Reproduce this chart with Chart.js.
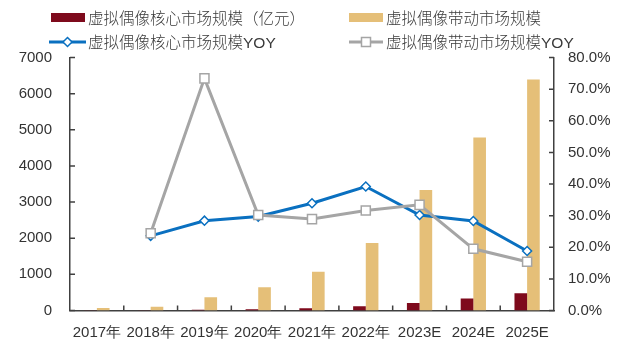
<!DOCTYPE html>
<html>
<head>
<meta charset="utf-8">
<script src="https://cdn.jsdelivr.net/npm/chart.js@4/dist/chart.umd.min.js"></script>
<style>
  html, body { margin: 0; padding: 0; background: #fff; }
  #wrap { position: relative; width: 625px; height: 346px; }
  canvas { position: absolute; left: 0; top: 0; }
  .lg { position: absolute; font-family: "Noto Sans CJK SC", "Liberation Sans", sans-serif; font-size: 15.5px; color: #3a3a3a; line-height: 20px; white-space: nowrap; font-weight: 300; }
  .lg .yoy { font-family: "Liberation Sans", Arial, sans-serif; font-weight: 400; }
  .sw { position: absolute; }
</style>
</head>
<body>
<div id="wrap">
  <canvas id="c" width="625" height="346"></canvas>
</div>
<script>
const categories = ["2017年", "2018年", "2019年", "2020年", "2021年", "2022年", "2023E", "2024E", "2025E"];
const coreMarket = [4, 8, 20, 35, 62, 121, 205, 335, 480];
const drivenMarket = [70, 105, 365, 645, 1075, 1866, 3335, 4785, 6390];
const coreYoy = [null, 23.6, 28.4, 29.7, 33.9, 39.2, 30.2, 28.3, 18.8];
const drivenYoy = [null, 24.4, 73.4, 30.2, 28.9, 31.6, 33.4, 19.5, 15.4];
const leftTicks = [0, 1000, 2000, 3000, 4000, 5000, 6000, 7000];
const rightTicks = [0, 10, 20, 30, 40, 50, 60, 70, 80];
const seriesNames = ["虚拟偶像核心市场规模（亿元）", "虚拟偶像带动市场规模", "虚拟偶像核心市场规模YOY", "虚拟偶像带动市场规模YOY"];

const COL_CORE = "#7E0A1C";
const COL_DRIVEN = "#E5BF78";
const COL_BLUE = "#0A70C0";
const COL_GRAY = "#A5A5A5";
const AXIS = "#404040";
const TICKFONT = { family: "'Liberation Sans', Arial, sans-serif", size: 15 };

// Legend (HTML, real text)
const wrap = document.getElementById('wrap');
function addEl(html, style, cls) {
  const d = document.createElement('div');
  d.className = cls || '';
  d.innerHTML = html;
  Object.assign(d.style, style);
  wrap.appendChild(d);
  return d;
}
function txt(s) { return s.replace(/YOY$/, '<span class="yoy">YOY</span>'); }
addEl('', { left: '51px', top: '13px', width: '34px', height: '9px', background: COL_CORE }, 'sw');
addEl(txt(seriesNames[0]), { left: '88px', top: '7px' }, 'lg');
addEl('', { left: '349px', top: '13px', width: '34px', height: '9px', background: COL_DRIVEN }, 'sw');
addEl(txt(seriesNames[1]), { left: '386px', top: '7px' }, 'lg');
// line swatches
const lg2 = document.createElement('canvas');
lg2.width = 625; lg2.height = 60;
lg2.style.position = 'absolute'; lg2.style.left = '0'; lg2.style.top = '0';
wrap.appendChild(lg2);
(function(){
  const g = lg2.getContext('2d');
  g.lineWidth = 3;
  g.strokeStyle = COL_BLUE; g.beginPath(); g.moveTo(49, 42); g.lineTo(86, 42); g.stroke();
  g.fillStyle = '#fff'; g.lineWidth = 1.5;
  g.beginPath(); g.moveTo(67.5, 37.5); g.lineTo(72, 42); g.lineTo(67.5, 46.5); g.lineTo(63, 42); g.closePath(); g.fill(); g.stroke();
  g.lineWidth = 3; g.strokeStyle = COL_GRAY; g.beginPath(); g.moveTo(349, 42); g.lineTo(383, 42); g.stroke();
  g.lineWidth = 1.5; g.fillStyle = '#fff';
  g.beginPath(); g.rect(361.5, 37.5, 9, 9); g.fill(); g.stroke();
})();
addEl(txt(seriesNames[2]), { left: '88px', top: '31px' }, 'lg');
addEl(txt(seriesNames[3]), { left: '386px', top: '31px' }, 'lg');

const innerTicks = {
  id: 'innerTicks',
  afterDraw(chart) {
    const ctx = chart.ctx;
    const a = chart.chartArea;
    const x = chart.scales.x, yl = chart.scales.y, yr = chart.scales.y2;
    ctx.save();
    ctx.strokeStyle = AXIS;
    ctx.lineWidth = 1.5;
    ctx.beginPath();
    yl.ticks.forEach(t => { const p = yl.getPixelForValue(t.value); ctx.moveTo(a.left, p); ctx.lineTo(a.left + 5, p); });
    yr.ticks.forEach(t => { const p = yr.getPixelForValue(t.value); ctx.moveTo(a.right, p); ctx.lineTo(a.right - 5, p); });
    const n = categories.length;
    for (let i = 1; i < n; i++) {
      const p = (x.getPixelForValue(i - 1) + x.getPixelForValue(i)) / 2;
      ctx.moveTo(p, a.bottom); ctx.lineTo(p, a.bottom - 5);
    }
    ctx.stroke();
    ctx.restore();
  }
};

new Chart(document.getElementById('c'), {
  data: {
    labels: categories,
    datasets: [
      { type: 'bar', label: seriesNames[0], data: coreMarket, backgroundColor: COL_CORE, yAxisID: 'y', order: 2, categoryPercentage: 0.47, barPercentage: 1.0 },
      { type: 'bar', label: seriesNames[1], data: drivenMarket, backgroundColor: COL_DRIVEN, yAxisID: 'y', order: 2, categoryPercentage: 0.47, barPercentage: 1.0 },
      { type: 'line', label: seriesNames[2], data: coreYoy, yAxisID: 'y2', order: 1, borderColor: COL_BLUE, borderWidth: 3, tension: 0,
        pointStyle: 'rectRot', pointRadius: 4.5, pointBackgroundColor: '#fff', pointBorderColor: COL_BLUE, pointBorderWidth: 1.5 },
      { type: 'line', label: seriesNames[3], data: drivenYoy, yAxisID: 'y2', order: 0, borderColor: COL_GRAY, borderWidth: 3, tension: 0,
        pointStyle: 'rect', pointRadius: 6.4, pointBackgroundColor: '#fff', pointBorderColor: COL_GRAY, pointBorderWidth: 1.5 }
    ]
  },
  options: {
    responsive: false,
    animation: false,
    layout: { padding: { top: 57.5, left: 0, right: 0, bottom: 0 } },
    plugins: { legend: { display: false }, tooltip: { enabled: false } },
    scales: {
      x: {
        offset: true,
        grid: { display: false, drawTicks: false },
        border: { display: true, color: AXIS, width: 1.5 },
        ticks: { color: '#333', font: TICKFONT, padding: 13, maxRotation: 0, autoSkip: false },
        afterFit(s) { s.height = 35.5; }
      },
      y: {
        position: 'left', min: 0, max: 7000,
        afterBuildTicks(s) { s.ticks = leftTicks.map(v => ({ value: v })); },
        grid: { display: false, drawTicks: false },
        border: { display: true, color: AXIS, width: 1.5 },
        ticks: { color: '#333', font: TICKFONT, padding: 18, callback: v => String(v) },
        afterFit(s) { s.width = 70; }
      },
      y2: {
        position: 'right', min: 0, max: 80,
        afterBuildTicks(s) { s.ticks = rightTicks.map(v => ({ value: v })); },
        grid: { display: false, drawTicks: false },
        border: { display: true, color: AXIS, width: 1.5 },
        ticks: { color: '#333', font: TICKFONT, padding: 14, callback: v => Number(v).toFixed(1) + '%' },
        afterFit(s) { s.width = 71; }
      }
    }
  },
  plugins: [innerTicks]
});
</script>
</body>
</html>
